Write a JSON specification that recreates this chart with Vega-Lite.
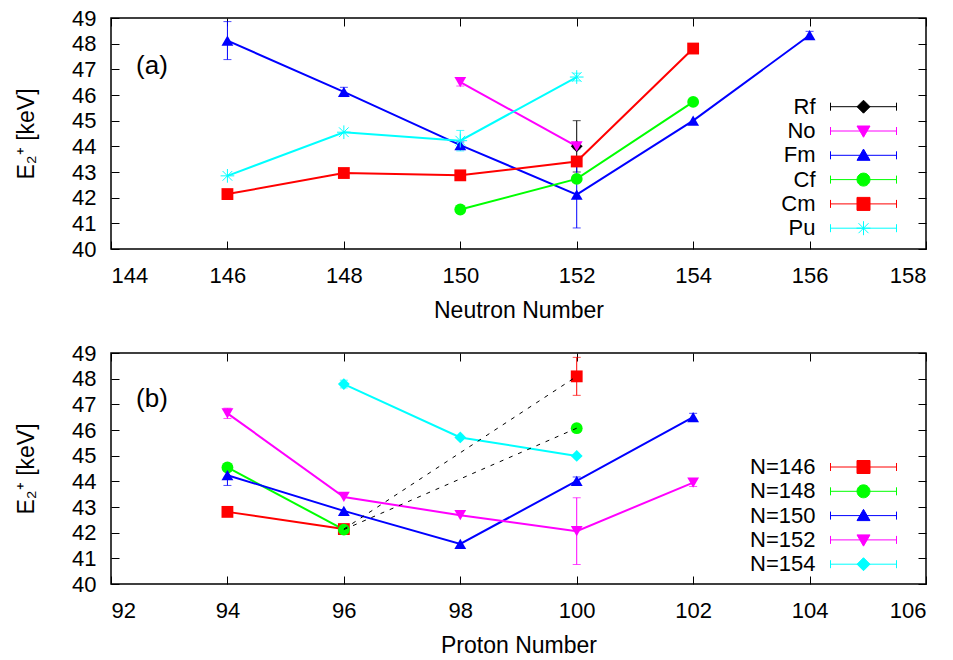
{
  "$schema": "https://vega.github.io/schema/vega-lite/v6.json",
  "background": "white",
  "padding": {"left": 14, "top": 6, "right": 0, "bottom": 0},
  "spacing": 18,
  "config": {
    "font": "Liberation Sans",
    "view": {"stroke": "black", "strokeWidth": 1.5},
    "axis": {
      "domain": false, "grid": false, "tickSize": -8, "tickColor": "black", "tickWidth": 1,
      "labelFont": "Liberation Sans", "labelFontSize": 22, "labelColor": "black",
      "titleFont": "Liberation Sans", "titleFontSize": 23, "titleFontWeight": "normal", "titleColor": "black"
    },
    "axisX": {"labelPadding": 24, "titlePadding": 13},
    "axisY": {"labelPadding": 23, "titlePadding": 33},
    "legend": {
      "orient": "none", "title": null, "labelAlign": "right", "labelOffset": -59,
      "labelFontSize": 22, "labelFont": "Liberation Sans", "labelColor": "black",
      "symbolSize": 100, "symbolStrokeWidth": 1, "rowPadding": 2.3, "padding": 0, "symbolOffset": 0
    }
  },
  "datasets": {
    "a": [
      {"series": "Rf", "N": 152, "E": 44.0, "err": 1.0},
      {"series": "No", "N": 150, "E": 46.5, "err": 0.15},
      {"series": "No", "N": 152, "E": 44.0, "err": 0.1},
      {"series": "Fm", "N": 146, "E": 48.12, "err": 0.74},
      {"series": "Fm", "N": 148, "E": 46.12, "err": 0.18},
      {"series": "Fm", "N": 150, "E": 44.05, "err": 0.12},
      {"series": "Fm", "N": 152, "E": 42.12, "err": 1.3},
      {"series": "Fm", "N": 154, "E": 45.0, "err": 0},
      {"series": "Fm", "N": 156, "E": 48.33, "err": 0.15},
      {"series": "Cf", "N": 150, "E": 41.54, "err": 0},
      {"series": "Cf", "N": 152, "E": 42.73, "err": 0},
      {"series": "Cf", "N": 154, "E": 45.73, "err": 0},
      {"series": "Cm", "N": 146, "E": 42.14, "err": 0},
      {"series": "Cm", "N": 148, "E": 42.96, "err": 0},
      {"series": "Cm", "N": 150, "E": 42.87, "err": 0},
      {"series": "Cm", "N": 152, "E": 43.41, "err": 0},
      {"series": "Cm", "N": 154, "E": 47.81, "err": 0},
      {"series": "Pu", "N": 146, "E": 42.85, "err": 0},
      {"series": "Pu", "N": 148, "E": 44.55, "err": 0},
      {"series": "Pu", "N": 150, "E": 44.22, "err": 0.4},
      {"series": "Pu", "N": 152, "E": 46.7, "err": 0.15}
    ],
    "b": [
      {"series": "N=146", "Z": 94, "E": 42.81, "err": 0, "conn": true},
      {"series": "N=146", "Z": 96, "E": 42.14, "err": 0, "conn": true},
      {"series": "N=146", "Z": 100, "E": 48.09, "err": 0.74, "conn": false},
      {"series": "N=148", "Z": 94, "E": 44.54, "err": 0, "conn": true},
      {"series": "N=148", "Z": 96, "E": 42.12, "err": 0, "conn": true},
      {"series": "N=148", "Z": 100, "E": 46.07, "err": 0, "conn": false},
      {"series": "N=150", "Z": 94, "E": 44.24, "err": 0.4, "conn": true},
      {"series": "N=150", "Z": 96, "E": 42.85, "err": 0, "conn": true},
      {"series": "N=150", "Z": 98, "E": 41.56, "err": 0, "conn": true},
      {"series": "N=150", "Z": 100, "E": 44.02, "err": 0.15, "conn": true},
      {"series": "N=150", "Z": 102, "E": 46.5, "err": 0.15, "conn": true},
      {"series": "N=152", "Z": 94, "E": 46.65, "err": 0.2, "conn": true},
      {"series": "N=152", "Z": 96, "E": 43.39, "err": 0, "conn": true},
      {"series": "N=152", "Z": 98, "E": 42.68, "err": 0, "conn": true},
      {"series": "N=152", "Z": 100, "E": 42.06, "err": 1.3, "conn": true},
      {"series": "N=152", "Z": 102, "E": 43.95, "err": 0.15, "conn": true},
      {"series": "N=154", "Z": 96, "E": 47.79, "err": 0.15, "conn": true},
      {"series": "N=154", "Z": 98, "E": 45.71, "err": 0, "conn": true},
      {"series": "N=154", "Z": 100, "E": 44.99, "err": 0, "conn": true}
    ],
    "dashed": [
      {"seg": "146", "Z": 96, "E": 42.14},
      {"seg": "146", "Z": 100, "E": 48.09},
      {"seg": "148", "Z": 96, "E": 42.12},
      {"seg": "148", "Z": 100, "E": 46.07}
    ]
  },
  "vconcat": [
    {
      "width": 815, "height": 231,
      "layer": [
        {
          "data": {"name": "a"},
          "encoding": {
            "x": {"field": "N", "type": "quantitative", "scale": {"domain": [144, 158], "nice": false, "zero": false},
                  "axis": {"title": "Neutron Number", "values": [144, 146, 148, 150, 152, 154, 156, 158]}},
            "y": {"field": "E", "type": "quantitative", "scale": {"domain": [40, 49], "nice": false, "zero": false},
                  "axis": {"title": "E₂⁺ [keV]", "values": [40, 41, 42, 43, 44, 45, 46, 47, 48, 49]}},
            "color": {
              "field": "series", "type": "nominal",
              "scale": {"domain": ["Rf", "No", "Fm", "Cf", "Cm", "Pu"], "range": ["#000000", "#ff00ff", "#0000ff", "#00ff00", "#ff0000", "#00ffff"]},
              "legend": {
                "legendX": 741.5, "legendY": 77.7,
                "encode": {"symbols": {"update": {
                  "shape": {"signal": "{'Rf':'M-6.6,0H6.6M-6.6,-0.8V0.8M6.6,-0.8V0.8M0,-1.3L1.3,0L0,1.3L-1.3,0Z','No':'M-6.6,0H6.6M-6.6,-0.8V0.8M6.6,-0.8V0.8M-1.3,-1L1.3,-1L0,1.25Z','Fm':'M-6.6,0H6.6M-6.6,-0.8V0.8M6.6,-0.8V0.8M-1.3,1L1.3,1L0,-1.25Z','Cf':'M-6.6,0H6.6M-6.6,-0.8V0.8M6.6,-0.8V0.8M1.3,0A1.3,1.3,0,1,1,-1.3,0A1.3,1.3,0,1,1,1.3,0Z','Cm':'M-6.6,0H6.6M-6.6,-0.8V0.8M6.6,-0.8V0.8M-1.3,-1.3H1.3V1.3H-1.3Z','Pu':'M-6.6,0H6.6M-6.6,-0.8V0.8M6.6,-0.8V0.8M-1.4,0H1.4M0,-1.4V1.4M-1,-1L1,1M-1,1L1,-1'}[datum.value]"},
                  "size": {"value": 100},
                  "strokeWidth": {"value": 1}
                }}}
              }
            }
          },
          "layer": [
            {"mark": {"type": "line", "strokeWidth": 2}},
            {"transform": [{"filter": "datum.err > 0"}],
             "mark": {"type": "errorbar", "ticks": true, "size": 8, "thickness": 1},
             "encoding": {"yError": {"field": "err"}}},
            {"transform": [{"filter": "datum.series == 'Rf'"}], "mark": {"type": "point", "filled": true, "shape": "diamond", "size": 140, "opacity": 1}},
            {"transform": [{"filter": "datum.series == 'No'"}], "mark": {"type": "point", "filled": true, "shape": "triangle-down", "size": 140, "opacity": 1}},
            {"transform": [{"filter": "datum.series == 'Fm'"}], "mark": {"type": "point", "filled": true, "shape": "triangle-up", "size": 140, "opacity": 1}},
            {"transform": [{"filter": "datum.series == 'Cf'"}], "mark": {"type": "point", "filled": true, "shape": "circle", "size": 140, "opacity": 1}},
            {"transform": [{"filter": "datum.series == 'Cm'"}], "mark": {"type": "point", "filled": true, "shape": "square", "size": 140, "opacity": 1}},
            {"transform": [{"filter": "datum.series == 'Pu'"}], "mark": {"type": "point", "filled": false, "strokeWidth": 1, "shape": "M-1.2,0H1.2M0,-1.2V1.2M-0.85,-0.85L0.85,0.85M-0.85,0.85L0.85,-0.85", "size": 130, "opacity": 1}}
          ]
        },
        {
          "data": {"values": [{"label": "(a)", "N": 144.43, "E": 47.14}]},
          "mark": {"type": "text", "align": "left", "baseline": "middle", "fontSize": 26, "font": "Liberation Sans", "color": "black"},
          "encoding": {
            "x": {"field": "N", "type": "quantitative", "scale": {"domain": [144, 158], "nice": false, "zero": false},
                  "axis": {"orient": "top", "labels": false, "title": null, "values": [144, 146, 148, 150, 152, 154, 156, 158]}},
            "y": {"field": "E", "type": "quantitative", "scale": {"domain": [40, 49], "nice": false, "zero": false},
                  "axis": {"orient": "right", "labels": false, "title": null, "values": [40, 41, 42, 43, 44, 45, 46, 47, 48, 49]}},
            "text": {"field": "label"}
          }
        }
      ],
      "resolve": {"axis": {"x": "independent", "y": "independent"}}
    },
    {
      "width": 815, "height": 231,
      "layer": [
        {
          "data": {"name": "b"},
          "encoding": {
            "x": {"field": "Z", "type": "quantitative", "scale": {"domain": [92, 106], "nice": false, "zero": false},
                  "axis": {"title": "Proton Number", "values": [92, 94, 96, 98, 100, 102, 104, 106]}},
            "y": {"field": "E", "type": "quantitative", "scale": {"domain": [40, 49], "nice": false, "zero": false},
                  "axis": {"title": "E₂⁺ [keV]", "values": [40, 41, 42, 43, 44, 45, 46, 47, 48, 49]}},
            "color": {
              "field": "series", "type": "nominal",
              "scale": {"domain": ["N=146", "N=148", "N=150", "N=152", "N=154"], "range": ["#ff0000", "#00ff00", "#0000ff", "#ff00ff", "#00ffff"]},
              "legend": {
                "legendX": 741.5, "legendY": 103,
                "encode": {"symbols": {"update": {
                  "shape": {"signal": "{'N=146':'M-6.6,0H6.6M-6.6,-0.8V0.8M6.6,-0.8V0.8M-1.3,-1.3H1.3V1.3H-1.3Z','N=148':'M-6.6,0H6.6M-6.6,-0.8V0.8M6.6,-0.8V0.8M1.3,0A1.3,1.3,0,1,1,-1.3,0A1.3,1.3,0,1,1,1.3,0Z','N=150':'M-6.6,0H6.6M-6.6,-0.8V0.8M6.6,-0.8V0.8M-1.3,1L1.3,1L0,-1.25Z','N=152':'M-6.6,0H6.6M-6.6,-0.8V0.8M6.6,-0.8V0.8M-1.3,-1L1.3,-1L0,1.25Z','N=154':'M-6.6,0H6.6M-6.6,-0.8V0.8M6.6,-0.8V0.8M0,-1.3L1.3,0L0,1.3L-1.3,0Z'}[datum.value]"},
                  "size": {"value": 100},
                  "strokeWidth": {"value": 1}
                }}}
              }
            }
          },
          "layer": [
            {"transform": [{"filter": "datum.conn"}], "mark": {"type": "line", "strokeWidth": 2}},
            {"transform": [{"filter": "datum.err > 0"}],
             "mark": {"type": "errorbar", "ticks": true, "size": 8, "thickness": 1},
             "encoding": {"yError": {"field": "err"}}},
            {"transform": [{"filter": "datum.series == 'N=146'"}], "mark": {"type": "point", "filled": true, "shape": "square", "size": 140, "opacity": 1}},
            {"transform": [{"filter": "datum.series == 'N=148'"}], "mark": {"type": "point", "filled": true, "shape": "circle", "size": 140, "opacity": 1}},
            {"transform": [{"filter": "datum.series == 'N=150'"}], "mark": {"type": "point", "filled": true, "shape": "triangle-up", "size": 140, "opacity": 1}},
            {"transform": [{"filter": "datum.series == 'N=152'"}], "mark": {"type": "point", "filled": true, "shape": "triangle-down", "size": 140, "opacity": 1}},
            {"transform": [{"filter": "datum.series == 'N=154'"}], "mark": {"type": "point", "filled": true, "shape": "diamond", "size": 140, "opacity": 1}}
          ]
        },
        {
          "data": {"name": "dashed"},
          "mark": {"type": "line", "color": "black", "strokeWidth": 1, "strokeDash": [4, 6]},
          "encoding": {
            "x": {"field": "Z", "type": "quantitative", "scale": {"domain": [92, 106], "nice": false, "zero": false}, "axis": null},
            "y": {"field": "E", "type": "quantitative", "scale": {"domain": [40, 49], "nice": false, "zero": false}, "axis": null},
            "detail": {"field": "seg"}
          }
        },
        {
          "data": {"values": [{"label": "(b)", "Z": 92.43, "E": 47.19}]},
          "mark": {"type": "text", "align": "left", "baseline": "middle", "fontSize": 26, "font": "Liberation Sans", "color": "black"},
          "encoding": {
            "x": {"field": "Z", "type": "quantitative", "scale": {"domain": [92, 106], "nice": false, "zero": false},
                  "axis": {"orient": "top", "labels": false, "title": null, "values": [92, 94, 96, 98, 100, 102, 104, 106]}},
            "y": {"field": "E", "type": "quantitative", "scale": {"domain": [40, 49], "nice": false, "zero": false},
                  "axis": {"orient": "right", "labels": false, "title": null, "values": [40, 41, 42, 43, 44, 45, 46, 47, 48, 49]}},
            "text": {"field": "label"}
          }
        }
      ],
      "resolve": {"axis": {"x": "independent", "y": "independent"}}
    }
  ],
  "resolve": {"scale": {"x": "independent", "y": "independent", "color": "independent"}}
}
